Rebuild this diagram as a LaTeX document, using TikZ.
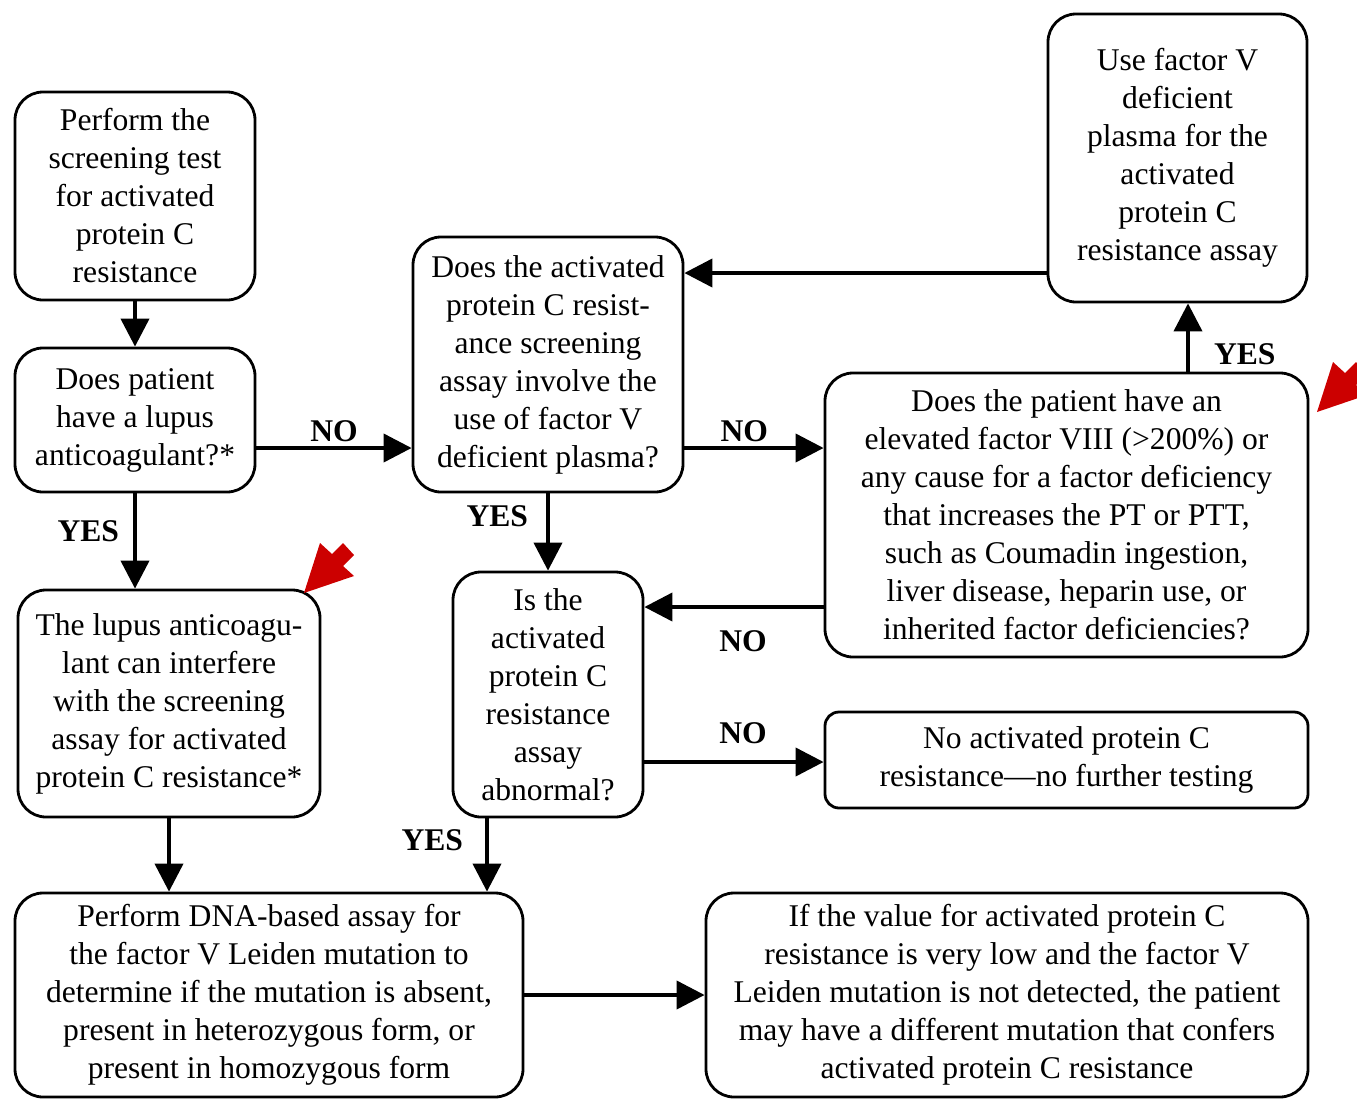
\documentclass[tikz,border=0pt]{standalone}
\usepackage{fontspec}
\setmainfont{Liberation Serif}
\usepackage{tikz}
\usetikzlibrary{arrows.meta}
\usetikzlibrary{calc}
\usepackage{xcolor}
\definecolor{mark_red}{RGB}{204,0,0}

\begin{document}
\begin{tikzpicture}[x=0.5pt, y=-0.5pt,
	main_node/.style={rectangle, rounded corners=14pt, draw, line width=1.4pt, align=center, inner sep=0pt, font=\fontsize{15.8}{19}\selectfont},
	flow/.style={-{Triangle[length=14pt,width=14pt]}, line width=2pt},
	answer/.style={font=\fontsize{15.8}{19}\selectfont\bfseries, inner sep=2pt},
	red_mark/.style={fill=mark_red}]
	
	\useasboundingbox (0,0) rectangle (1357,1099);
	\clip (0,0) rectangle (1357,1099);
	
	\node[main_node, minimum width=120pt, minimum height=104pt] (1) at (135,196) {Perform the\\screening test\\for activated\\protein C\\resistance};
	\node[main_node, minimum width=120pt, minimum height=72pt] (2) at (135,420) {Does patient\\have a lupus\\anticoagulant?*};
	\node[main_node, minimum width=151pt, minimum height=113.5pt] (3) at (169,703.5) {The lupus anticoagu-\\lant can interfere\\with the screening\\assay for activated\\protein C resistance*};
	\node[main_node, minimum width=254pt, minimum height=102pt] (4) at (269,995) {Perform DNA-based assay for\\the factor V Leiden mutation to\\determine if the mutation is absent,\\present in heterozygous form, or\\present in homozygous form};
	\node[main_node, minimum width=135pt, minimum height=127.5pt] (5) at (548,364.5) {Does the activated\\protein C resist-\\ance screening\\assay involve the\\use of factor V\\deficient plasma?};
	\node[main_node, minimum width=95pt, minimum height=122.5pt] (6) at (548,694.5) {Is the\\activated\\protein C\\resistance\\assay\\abnormal?};
	\node[main_node, minimum width=129.5pt, minimum height=144pt] (7) at (1177.5,158) {Use factor V\\deficient\\plasma for the\\activated\\protein C\\resistance assay};
	\node[main_node, minimum width=241.5pt, minimum height=142pt] (8) at (1066.5,515) {Does the patient have an\\elevated factor VIII (>200\%) or\\any cause for a factor deficiency\\that increases the PT or PTT,\\such as Coumadin ingestion,\\liver disease, heparin use, or\\inherited factor deficiencies?};
	\node[main_node, rounded corners=7pt, minimum width=241.5pt, minimum height=48pt] (9) at (1066.5,760) {No activated protein C\\resistance---no further testing};
	\node[main_node, minimum width=301pt, minimum height=102pt] (10) at (1007,995) {If the value for activated protein C\\resistance is very low and the factor V\\Leiden mutation is not detected, the patient\\may have a different mutation that confers\\activated protein C resistance};
	
	\path[flow, every node/.style={answer}]
	(1) edge                                  node {} (2)
	(2.east |- 0,448) edge                    node[above] {NO} (5.west |- 0,448)
	(2) edge                                  node[left=5pt, pos=0.4] {YES} (3.north -| 2.south)
	(5.east |- 0,448) edge                    node[above, pos=0.43] {NO} (8.west |- 0,448)
	(5) edge                                  node[left=7pt, pos=0.3] {YES} (6)
	(8.north -| 1188,0) edge                  node[right=10pt, pos=0.25] {YES} (7.south -| 1188,0)
	(7.west |- 0,273) edge                    node {} (5.east |- 0,273)
	(8.west |- 0,607) edge                    node[below=9pt, pos=0.45] {NO} (6.east |- 0,607)
	(6.east |- 0,762) edge                    node[above=6pt, pos=0.55] {NO} (9.west |- 0,762)
	(6.south -| 487,0) edge                   node[left=9pt, pos=0.3] {YES} (4.north -| 487,0)
	(3) edge                                  node {} (4.north -| 3.south)
	(4.east |- 0,995) edge                    node {} (10.west |- 0,995);
	
	% red pointers
	\fill[red_mark] (304,593) -- (320,543) -- (332,554) -- (343,543) -- (354,555) -- (343,566) -- (354,576) -- cycle;
	\fill[red_mark, shift={(1013,-181)}] (304,593) -- (320,543) -- (332,554) -- (343,543) -- (354,555) -- (343,566) -- (354,576) -- cycle;
\end{tikzpicture}
\end{document}
